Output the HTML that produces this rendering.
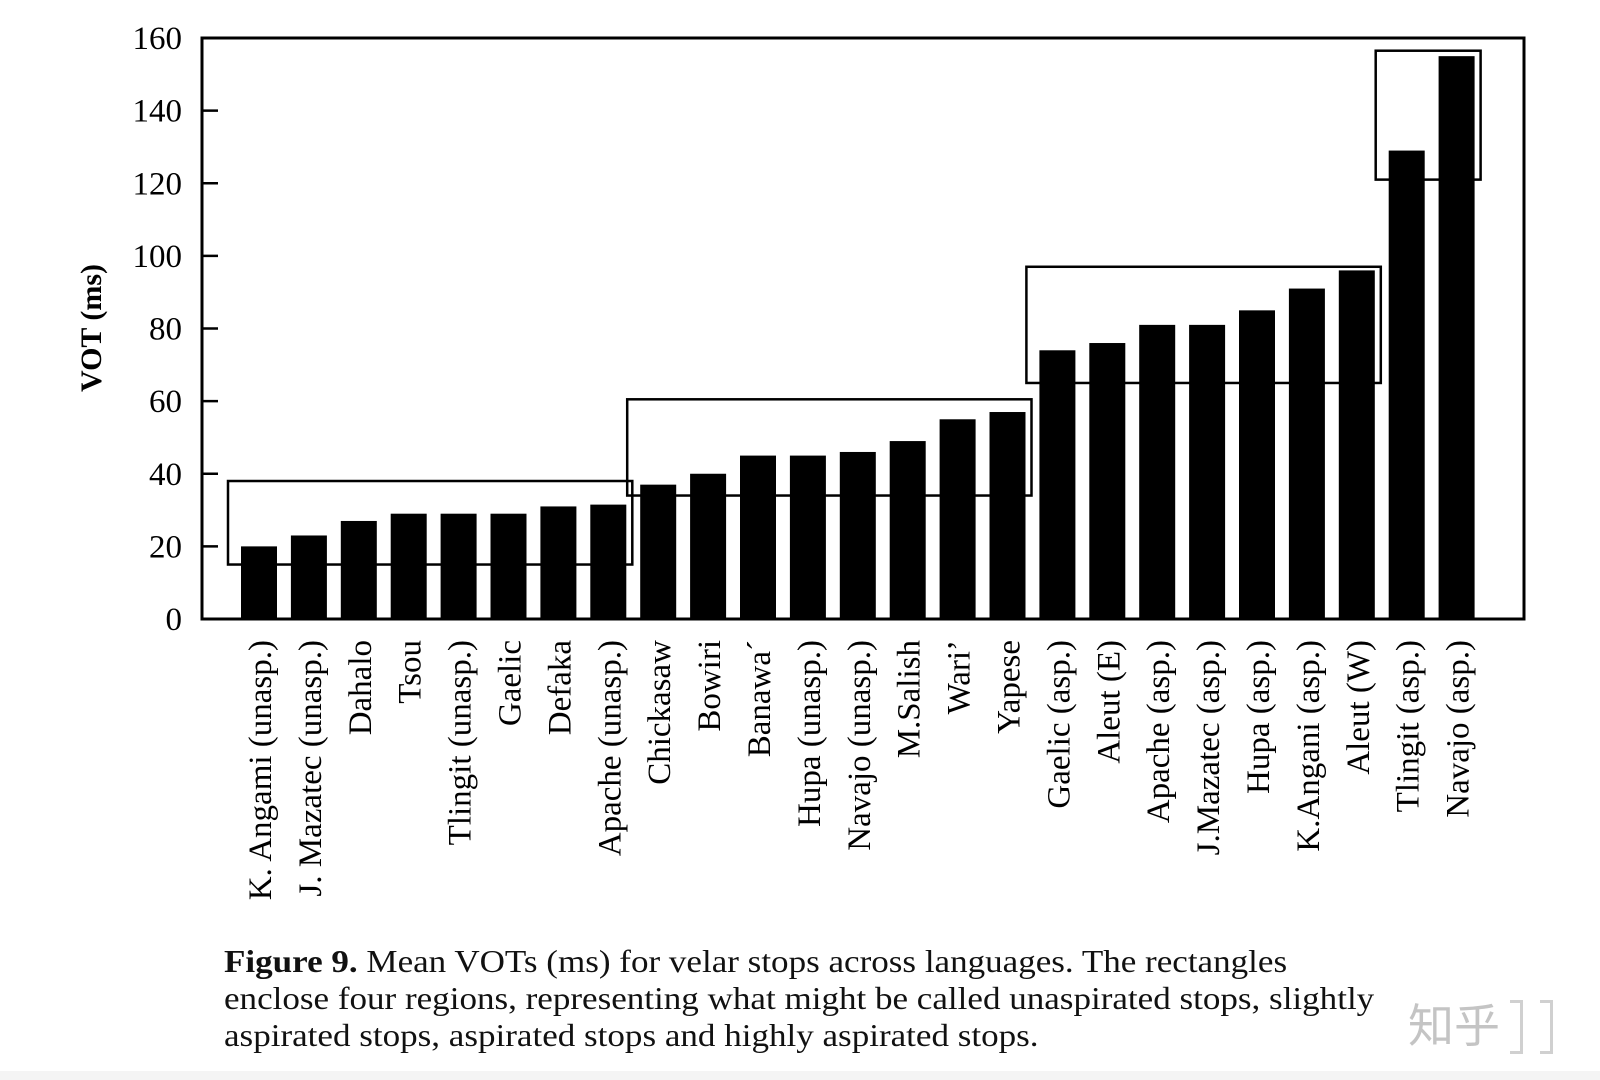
<!DOCTYPE html>
<html><head><meta charset="utf-8"><style>
body{margin:0;width:1600px;height:1080px;background:#fff;overflow:hidden;font-family:"Liberation Serif",serif;}
#cap{position:absolute;left:224px;top:943px;font-size:32px;line-height:37px;color:#111;white-space:nowrap;transform:scaleX(1.095);transform-origin:0 0;}
#band{position:absolute;left:0;top:1071px;width:1600px;height:9px;background:#f4f4f4;}
#wm{position:absolute;left:1408px;top:990px;font-family:"Noto Sans CJK SC",sans-serif;font-size:46px;color:#c4c4c4;}
.st{position:absolute;top:1000px;width:10px;height:48px;border:3px solid #d0d0d0;border-left:none;}
</style></head><body>
<svg id="chart" width="1600" height="1080" style="position:absolute;left:0;top:0">
<g id="g"></g>
</svg>
<div id="band"></div>
<div id="cap"><b>Figure 9.</b> Mean VOTs (ms) for velar stops across languages. The rectangles<br>enclose four regions, representing what might be called unaspirated stops, slightly<br>aspirated stops, aspirated stops and highly aspirated stops.</div>
<div id="wm">知乎</div>
<div class="st" style="left:1510px"></div>
<div class="st" style="left:1540px"></div>
<script>
const categories=["K. Angami (unasp.)","J. Mazatec (unasp.)","Dahalo","Tsou","Tlingit (unasp.)","Gaelic","Defaka","Apache (unasp.)","Chickasaw","Bowiri","Banawa\u00b4","Hupa (unasp.)","Navajo (unasp.)","M.Salish","Wari\u2019","Yapese","Gaelic (asp.)","Aleut (E)","Apache (asp.)","J.Mazatec (asp.)","Hupa (asp.)","K.Angani (asp.)","Aleut (W)","Tlingit (asp.)","Navajo (asp.)"];
const values=[20,23,27,29,29,29,31,31.5,37,40,45,45,46,49,55,57,74,76,81,81,85,91,96,129,155];
const yTicks=[0,20,40,60,80,100,120,140,160];
const boxStart=[0,8,16,23];
const boxEnd=[7,15,22,24];
const boxLow=[15,34,65,121];
const boxHigh=[38,60.5,97,156.5];
const NS="http://www.w3.org/2000/svg";
const g=document.getElementById('g');
const L=202,R=1524,T=38,B=619;
const y=v=>B-(v/160)*(B-T);
const x=i=>259+i*49.9;
const BW=36;
function mk(t,a){const e=document.createElementNS(NS,t);for(const k in a)e.setAttribute(k,a[k]);g.appendChild(e);return e;}
values.forEach((v,i)=>{const r=mk('rect',{x:x(i)-BW/2,y:y(v),width:BW,height:B-y(v),fill:'#000'});

});
boxStart.forEach((s,k)=>{const x0=x(s)-BW/2-13,x1=x(boxEnd[k])+BW/2+6;
const r=mk('rect',{x:x0,y:y(boxHigh[k]),width:x1-x0,height:y(boxLow[k])-y(boxHigh[k]),fill:'none',stroke:'#000','stroke-width':2.5});

});
const f=mk('rect',{x:L,y:T,width:R-L,height:B-T,fill:'none',stroke:'#000','stroke-width':3});


yTicks.forEach(t=>{mk('line',{x1:L,x2:L+16,y1:y(t),y2:y(t),stroke:'#000','stroke-width':2.5});
const tx=mk('text',{x:182,y:y(t)+11,'text-anchor':'end','font-size':33,'font-family':'Liberation Serif, serif'});
tx.textContent=t;

});
const yt=mk('text',{x:0,y:0,transform:'translate(101,328) rotate(-90)','text-anchor':'middle','font-size':30,'font-weight':'bold','font-family':'Liberation Serif, serif'});
yt.textContent='VOT (ms)';


categories.forEach((c,i)=>{const t=mk('text',{x:0,y:0,transform:`translate(${x(i)+12},640) rotate(-90)`,'text-anchor':'end','font-size':33,'font-family':'Liberation Serif, serif'});
t.textContent=c;

});
</script>
</body></html>
